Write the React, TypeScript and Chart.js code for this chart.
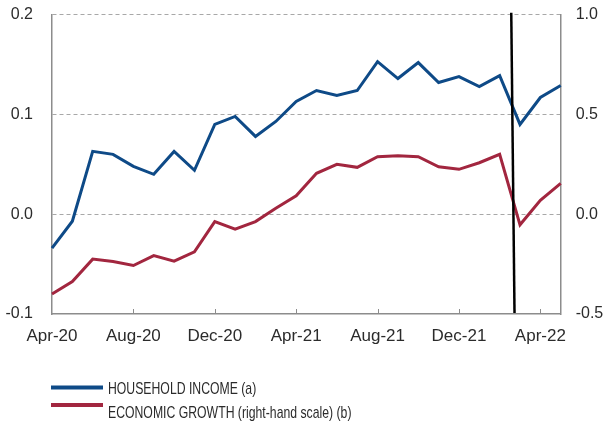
import React, { useEffect, useRef } from "react";
import { Chart, registerables } from "chart.js";

Chart.register(...registerables);

const months = [
  "Apr-20", "May-20", "Jun-20", "Jul-20", "Aug-20", "Sep-20", "Oct-20", "Nov-20",
  "Dec-20", "Jan-21", "Feb-21", "Mar-21", "Apr-21", "May-21", "Jun-21", "Jul-21",
  "Aug-21", "Sep-21", "Oct-21", "Nov-21", "Dec-21", "Jan-22", "Feb-22", "Mar-22",
  "Apr-22", "May-22",
];

const householdIncome = [
  -0.034, -0.007, 0.063, 0.060, 0.048, 0.040, 0.063, 0.044,
  0.090, 0.098, 0.078, 0.093, 0.113, 0.124, 0.119, 0.124,
  0.153, 0.136, 0.152, 0.132, 0.138, 0.128, 0.139, 0.090,
  0.117, 0.129,
];

const economicGrowth = [
  -0.40, -0.337, -0.225, -0.237, -0.257, -0.207, -0.235, -0.188,
  -0.037, -0.075, -0.037, 0.03, 0.092, 0.205, 0.25, 0.235,
  0.288, 0.293, 0.288, 0.238, 0.225, 0.258, 0.30, -0.053,
  0.07, 0.155,
];

const leftTicks = [-0.1, 0.0, 0.1, 0.2];
const rightTicks = [-0.5, 0.0, 0.5, 1.0];

// vertical marker line endpoints (category index, left-axis value)
const markerStart = { x: 22.57, y: 0.202 };
const markerEnd = { x: 22.73, y: -0.099 };

const legendItems = [
  { label: "HOUSEHOLD INCOME (a)", color: "#0e4a87" },
  { label: "ECONOMIC GROWTH (right-hand scale) (b)", color: "#a2263f" },
];

const FONT = "'Liberation Sans', Arial, sans-serif";

export default function App() {
  const ref = useRef<HTMLCanvasElement | null>(null);

  useEffect(() => {
    if (!ref.current) return;

    const extras = {
      id: "extras",
      afterDatasetsDraw(chart: any) {
        const ctx = chart.ctx;
        const x = chart.scales.x;
        const y = chart.scales.y;
        const area = chart.chartArea;
        ctx.save();
        // inward x ticks
        ctx.strokeStyle = "#8c8c8c";
        ctx.lineWidth = 1;
        months.forEach((_, i) => {
          if (i % 4 === 0 && i > 0) {
            const px = Math.round(x.getPixelForValue(i)) + 0.5;
            ctx.beginPath();
            ctx.moveTo(px, area.bottom);
            ctx.lineTo(px, area.bottom - 5);
            ctx.stroke();
          }
        });
        // marker line
        ctx.strokeStyle = "#000";
        ctx.lineWidth = 2.5;
        ctx.beginPath();
        ctx.moveTo(x.getPixelForValue(markerStart.x), y.getPixelForValue(markerStart.y));
        ctx.lineTo(x.getPixelForValue(markerEnd.x), y.getPixelForValue(markerEnd.y));
        ctx.stroke();

        // legend
        const lx = area.left;
        const rows = [387.5, 405];
        const textRows = [389, 413];
        legendItems.forEach((it, i) => {
          ctx.fillStyle = it.color;
          ctx.fillRect(lx - 1, rows[i] - 2, 52, 4);
          ctx.save();
          ctx.translate(lx + 56, textRows[i]);
          ctx.scale(0.72, 1);
          ctx.fillStyle = "#2b2b2b";
          ctx.font = `17px ${FONT}`;
          ctx.textBaseline = "middle";
          ctx.textAlign = "left";
          ctx.fillText(it.label, 0, 0);
          ctx.restore();
        });
        ctx.restore();
      },
    };

    const noPad = (s: any) => {
      s.paddingTop = 0;
      s.paddingBottom = 0;
      s.paddingLeft = 0;
      s.paddingRight = 0;
    };

    const chart = new Chart(ref.current, {
      type: "line",
      data: {
        labels: months,
        datasets: [
          {
            label: legendItems[0].label,
            data: householdIncome,
            borderColor: legendItems[0].color,
            borderWidth: 3,
            pointRadius: 0,
            tension: 0,
            yAxisID: "y",
          },
          {
            label: legendItems[1].label,
            data: economicGrowth,
            borderColor: legendItems[1].color,
            borderWidth: 3,
            pointRadius: 0,
            tension: 0,
            yAxisID: "y1",
          },
        ],
      },
      options: {
        animation: false,
        responsive: false,
        layout: { padding: { top: 14.7, right: 0, left: 0, bottom: 0 } },
        plugins: { legend: { display: false }, tooltip: { enabled: false } },
        scales: {
          x: {
            type: "category",
            offset: false,
            grid: { display: true, drawOnChartArea: false, drawTicks: false },
            border: { display: true, color: "#8c8c8c", width: 1.5 },
            ticks: {
              autoSkip: false,
              maxRotation: 0,
              padding: 12,
              color: "#2b2b2b",
              font: { family: FONT, size: 17 },
              callback: (_v: any, i: number) => (i % 4 === 0 ? months[i] : ""),
            },
            afterFit: (s: any) => { noPad(s); s.height = 109; },
          },
          y: {
            position: "left",
            min: -0.1,
            max: 0.2,
            afterBuildTicks: (s: any) => { s.ticks = leftTicks.map((v) => ({ value: v })); },
            grid: {
              drawTicks: false,
              color: (c: any) => (c.tick && c.tick.value === -0.1 ? "rgba(0,0,0,0)" : "#a8a8a8"),
              lineWidth: 1,
            },
            border: { display: true, color: "#8c8c8c", width: 1.5, dash: [4, 3] },
            ticks: {
              padding: 19,
              color: "#2b2b2b",
              font: { family: FONT, size: 16 },
              callback: (v: any) => Number(v).toFixed(1),
            },
            afterFit: (s: any) => { noPad(s); s.width = 52; },
          },
          y1: {
            position: "right",
            min: -0.5,
            max: 1.0,
            afterBuildTicks: (s: any) => { s.ticks = rightTicks.map((v) => ({ value: v })); },
            grid: { drawOnChartArea: false, drawTicks: false },
            border: { display: true, color: "#8c8c8c", width: 1.5 },
            ticks: {
              padding: 15,
              color: "#2b2b2b",
              font: { family: FONT, size: 16 },
              callback: (v: any) => Number(v).toFixed(1),
            },
            afterFit: (s: any) => { noPad(s); s.width = 47.3; },
          },
        },
      },
      plugins: [extras],
    });
    return () => chart.destroy();
  }, []);

  return (
    <div style={{ position: "fixed", left: 0, top: 0, width: 608, height: 423, background: "#fff" }}>
      <canvas ref={ref} width={608} height={423} style={{ width: 608, height: 423 }} />
    </div>
  );
}
